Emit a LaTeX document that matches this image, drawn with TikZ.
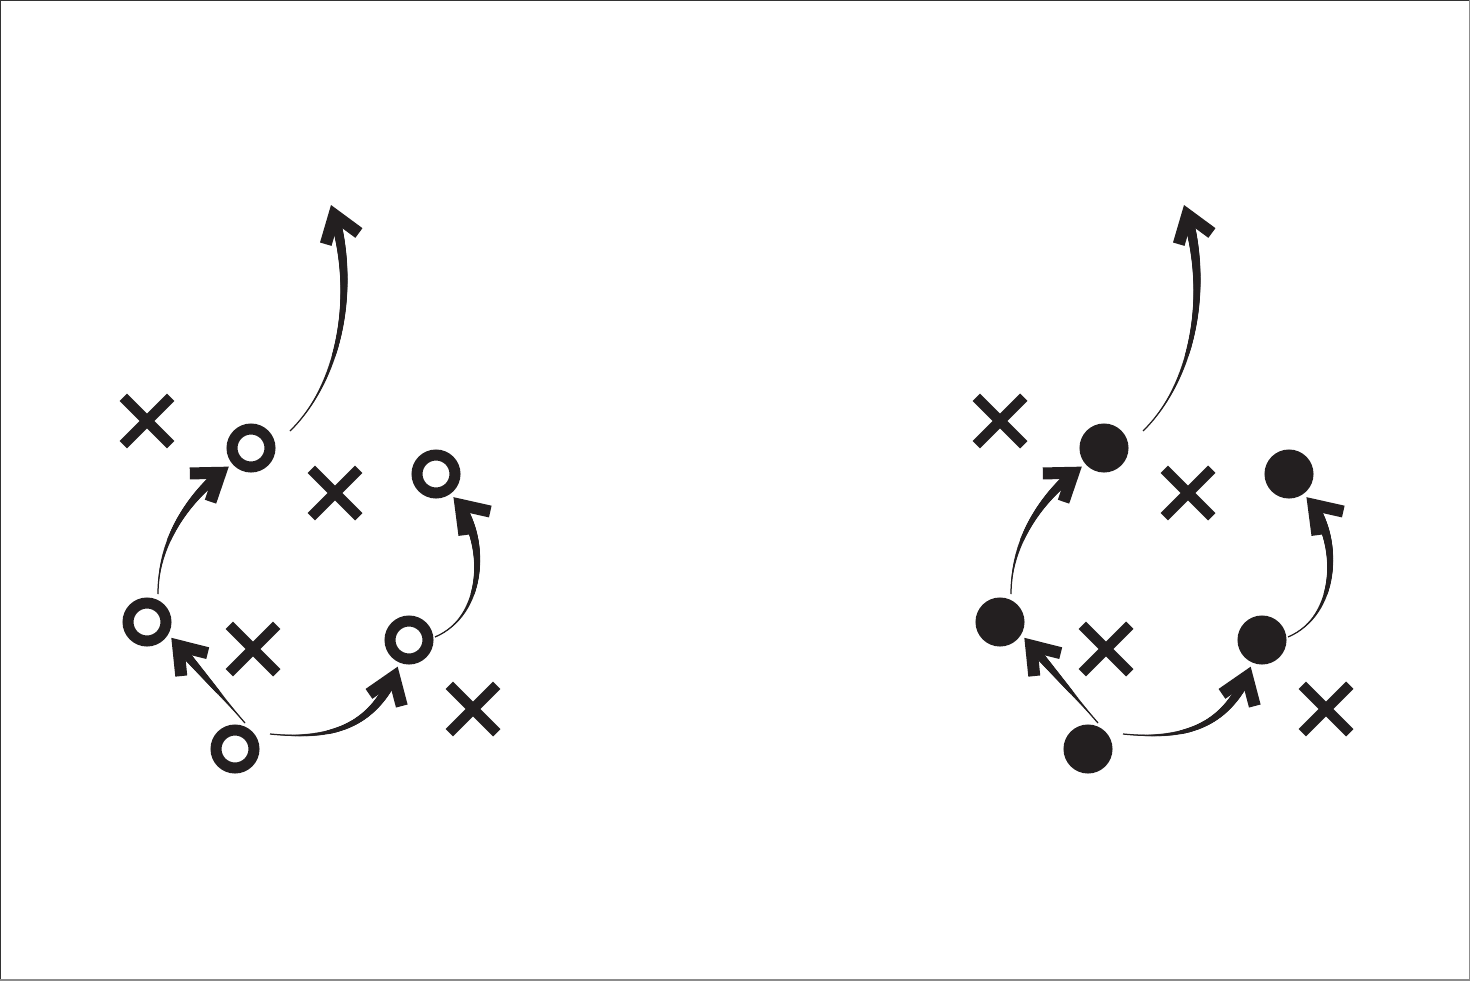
\documentclass[tikz,border=0pt]{standalone}
\usepackage{tikz}
\usetikzlibrary{calc,arrows.meta,shapes.misc,decorations.markings}
\definecolor{ink}{RGB}{35,31,32}
\tikzset{
    player/.style={circle, draw=ink, line width=0.22cm, minimum size=0.76cm, inner sep=0pt, outer sep=0.2cm},
    defender/.style={cross out, draw=ink, line width=0.21cm, minimum size=0.74cm, inner sep=0pt},
    route/.style={draw=ink, line width=0.025cm,
        -{Straight Barb[length=0.5cm, width=0.7cm, line width=0.24cm 0]},
        postaction={decorate, decoration={markings,
            mark=between positions 0 and -0.3cm step 0.016cm with {
                \pgfmathsetmacro\rr{3.1*\pgfkeysvalueof{/pgf/decoration/mark info/distance from start}/\pgfdecoratedpathlength}
                \fill[ink] (0,0) circle (\rr pt);}}}}
}

\begin{document}
\begin{tikzpicture}[x=0.02cm, y=-0.02cm]
    \useasboundingbox (0,0) rectangle (1470,980);
    \fill[white] (0,0) rectangle (1470,980);
    \draw[black!80, line width=0.06cm] (0,980) -- (0,0) -- (1470,0);
    \draw[black!45, line width=0.06cm] (1470,0) -- (1470,980) -- (0,980);
    % same play twice: open rings, then filled dots
    \foreach \dx/\inside in {0/white, 853/ink} {
    \begin{scope}[shift={(\dx,0)}, name prefix=p\dx-]
        \node[player, fill=\inside] (p1) at (251,448) {};
        \node[player, fill=\inside] (p2) at (436,474) {};
        \node[player, fill=\inside] (p3) at (409,640) {};
        \node[player, fill=\inside] (p4) at (147,622) {};
        \node[player, fill=\inside] (p5) at (235,749) {};
        \node[defender] (d1) at (147,421) {};
        \node[defender] (d2) at (335,493) {};
        \node[defender] (d3) at (253,649) {};
        \node[defender] (d4) at (473,709) {};
        \coordinate (deep) at ($(p1)+(80,-243)$);
        \draw[route] ($(p1)+(39,-17)$) .. controls (342,380) and (358,285) .. (deep);
        \draw[route] ($(p4)+(11,-28)$) .. controls (158,540) and (190,495) .. (p1.220);
        \draw[route] ($(p5)+(10,-26)$) -- (p4.-33);
        \draw[route] ($(p5)+(35,-15)$) .. controls (330,740) and (375,728) .. (p3.247);
        \draw[route] ($(p3)+(26,-3)$) .. controls (487,615) and (488,535) .. (p2.-53);
    \end{scope}
    }
\end{tikzpicture}
\end{document}
